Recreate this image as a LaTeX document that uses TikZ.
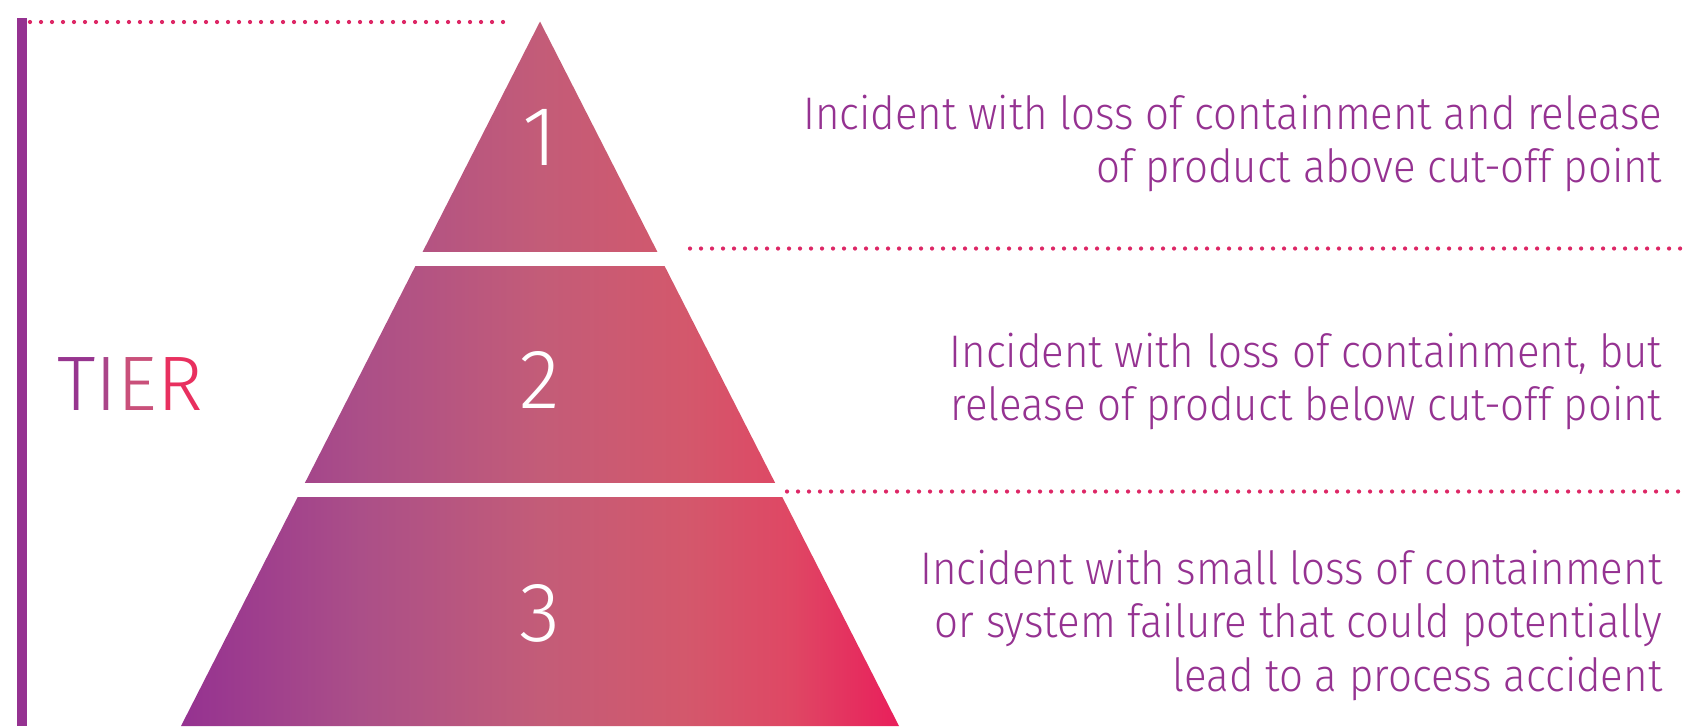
\documentclass[tikz,border=0pt]{standalone}
\usepackage{fontspec}
\setmainfont{Fira Sans}[UprightFont=* Light]
\newfontfamily\descfont{Fira Sans}[UprightFont=* Light, FakeStretch=0.92]
\definecolor{tierpurple}{HTML}{953291}
\definecolor{tierred}{HTML}{E91F5B}
\definecolor{dotcolor}{HTML}{DD2766}
\definecolor{grad1}{HTML}{AB4F88}
\definecolor{grad2}{HTML}{C35C78}
\definecolor{grad3}{HTML}{D3586C}
\definecolor{grad4}{HTML}{DF4764}
\pgfdeclarehorizontalshading{pyramidfill}{100bp}{color(0bp)=(tierpurple); color(25bp)=(tierpurple);
  color(37.5bp)=(grad1); color(50bp)=(grad2); color(60bp)=(grad3); color(67.5bp)=(grad4);
  color(75bp)=(tierred); color(100bp)=(tierred)}

\tikzset{
  desc/.style={anchor=base east, text=tierpurple, inner sep=0pt, font=\descfont\fontsize{13}{15}\selectfont},
  num/.style={anchor=base, text=white, inner sep=0pt, font=\fontsize{24}{28}\selectfont},
  divider/.style={dotcolor, line width=1.2pt, line cap=round, dash pattern=on 0pt off 3.13pt},
}

\begin{document}
\begin{tikzpicture}[x=0.1mm,y=-0.1mm]
\useasboundingbox (0,0) rectangle (1685,726);

% pyramid, cut into three tiers by white bands
\shade[shading=pyramidfill] (540,21.5) -- (181,726) -- (899,726) -- cycle;
\fill[white] (150,251.7) rectangle (800,265.7);
\fill[white] (150,482.7) rectangle (800,496.7);

\node[num] (n1) at (540,165) {1};
\node[num] (n2) at (540,408) {2};
\node[num] (n3) at (540,641) {3};

% left bar and label
\fill[tierpurple] (17,18) rectangle (27,726);
\node[anchor=base west, inner sep=0pt, font=\fontsize{22}{26}\selectfont] (tier) at (57,410)
  {\textcolor[HTML]{97358F}{T}\textcolor[HTML]{AA4589}{I}\textcolor[HTML]{C9507A}{E}\textcolor[HTML]{E8305F}{R}};

% dividers
\coordinate (top0) at (30,22);
\coordinate (top1) at (504,22);
\coordinate (mid0) at (690,248.5);
\coordinate (mid1) at (1685,248.5);
\coordinate (low0) at (787,491.5);
\coordinate (low1) at (1685,491.5);
\draw[divider] (top0) -- (top1);
\draw[divider] (mid0) -- (mid1);
\draw[divider] (low0) -- (low1);

% descriptions
\node[desc] (d1a) at (1663,129) {Incident with loss of containment and release};
\node[desc] (d1b) at (1663,182.5) {of product above cut-off point};
\node[desc] (d2a) at (1663,367) {Incident with loss of containment, but};
\node[desc] (d2b) at (1663,420.5) {release of product below cut-off point};
\node[desc] (d3a) at (1663,584) {Incident with small loss of containment};
\node[desc] (d3b) at (1663,637.5) {or system failure that could potentially};
\node[desc] (d3c) at (1663,691) {lead to a process accident};
\end{tikzpicture}
\end{document}
